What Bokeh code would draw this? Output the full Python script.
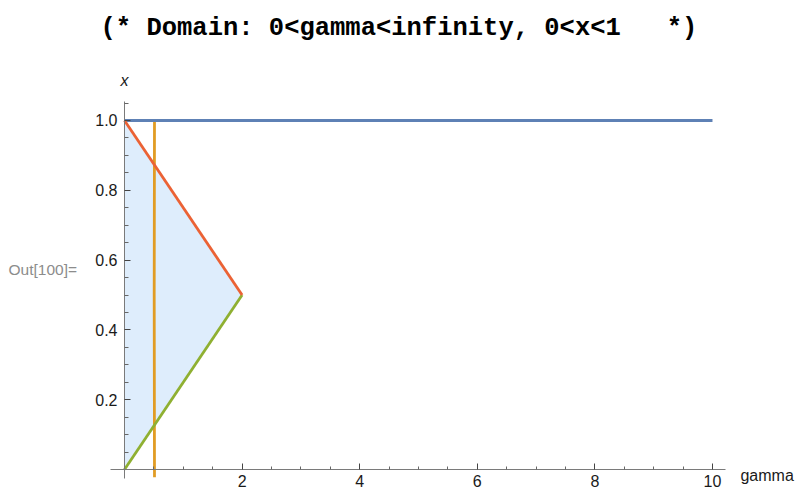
from bokeh.plotting import figure
from bokeh.models import LinearAxis, FixedTicker, PrintfTickFormatter, Range1d, Label
from bokeh.embed import file_html
from bokeh.resources import INLINE

# ---- data ----
title_text = "(* Domain: 0<gamma<infinity, 0<x<1\u00a0\u00a0\u00a0*)"
out_label = "Out[100]="
x_label = "gamma"
y_label = "x"

x_major = [2, 4, 6, 8, 10]
x_minor = [0.5, 1, 1.5, 2.5, 3, 3.5, 4.5, 5, 5.5, 6.5, 7, 7.5, 8.5, 9, 9.5]
y_major = [0.2, 0.4, 0.6, 0.8, 1.0]
y_minor = [0.05, 0.1, 0.15, 0.25, 0.3, 0.35, 0.45, 0.5, 0.55, 0.65, 0.7, 0.75,
           0.85, 0.9, 0.95, 1.05]

region_gamma = [0, 0, 2]
region_x = [0, 1, 0.5]

blue_gamma = [0, 10]
blue_x = [1, 1]
orange_gamma = [0.51, 0.505, 0.51]
orange_x = [-0.022, 0.5, 1.0]
green_gamma = [0, 2]
green_x = [0, 0.5]
red_gamma = [0, 2]
red_x = [1, 0.5]

BLUE = "#5E81B5"
ORANGE = "#E19C24"
GREEN = "#8FB032"
RED = "#EB6235"
FILL = "#DEEDFC"

p = figure(width=798, height=497, output_backend="svg", toolbar_location=None,
           x_range=Range1d(-2.109, 11.463), y_range=Range1d(-0.0802, 1.3438),
           x_axis_location=None, y_axis_location=None,
           min_border_left=0, min_border_right=0, min_border_top=0,
           min_border_bottom=0)
p.outline_line_color = None
p.xgrid.visible = False
p.ygrid.visible = False
p.background_fill_color = "white"
p.border_fill_color = "white"

p.patch(region_gamma, region_x, fill_color=FILL, line_color=None)
p.line(orange_gamma, orange_x, line_color=ORANGE, line_width=2.8)
p.line(blue_gamma, blue_x, line_color=BLUE, line_width=2.8)
p.line(green_gamma, green_x, line_color=GREEN, line_width=2.8)
p.line(red_gamma, red_x, line_color=RED, line_width=2.8)

FONT = "Liberation Sans"

xaxis = LinearAxis(fixed_location=0, bounds=(-0.24, 10.22),
                   ticker=FixedTicker(ticks=x_major, minor_ticks=x_minor))
yaxis = LinearAxis(fixed_location=0, bounds=(-0.026, 1.054),
                   ticker=FixedTicker(ticks=y_major, minor_ticks=y_minor),
                   formatter=PrintfTickFormatter(format="%.1f"))
for ax, minor_len in ((xaxis, 3), (yaxis, 4)):
    ax.axis_line_color = "#7a7a7a"
    ax.axis_line_width = 1
    ax.major_tick_line_color = "#444444"
    ax.minor_tick_line_color = "#666666"
    ax.major_tick_in = 6
    ax.major_tick_out = 0
    ax.minor_tick_in = minor_len
    ax.minor_tick_out = 0
    ax.major_label_text_font = FONT
    ax.major_label_text_font_size = "16px"
    ax.major_label_text_color = "#1a1a1a"
xaxis.major_label_standoff = 5
yaxis.major_label_standoff = 7
p.add_layout(xaxis, "below")
p.add_layout(yaxis, "left")

p.add_layout(Label(x=10.476, y=-0.0172, text=x_label, text_font=FONT,
                   text_font_size="16px", text_color="#1a1a1a",
                   text_align="left", text_baseline="alphabetic"))
p.add_layout(Label(x=0, y=1.1146, text=y_label, text_font=FONT,
                   text_font_style="italic", text_font_size="16px",
                   text_color="#1a1a1a", text_align="center",
                   text_baseline="middle"))
p.add_layout(Label(x=-1.973, y=0.573, text=out_label, text_font=FONT,
                   text_font_size="15.5px", text_color="#8c8c8c",
                   text_align="left", text_baseline="middle"))
p.add_layout(Label(x=-0.408, y=1.2636, text=title_text,
                   text_font="Liberation Mono", text_font_style="bold",
                   text_font_size="25.5px", text_color="#000000",
                   text_align="left", text_baseline="alphabetic"))

open("out.html", "w").write(file_html(p, INLINE))
